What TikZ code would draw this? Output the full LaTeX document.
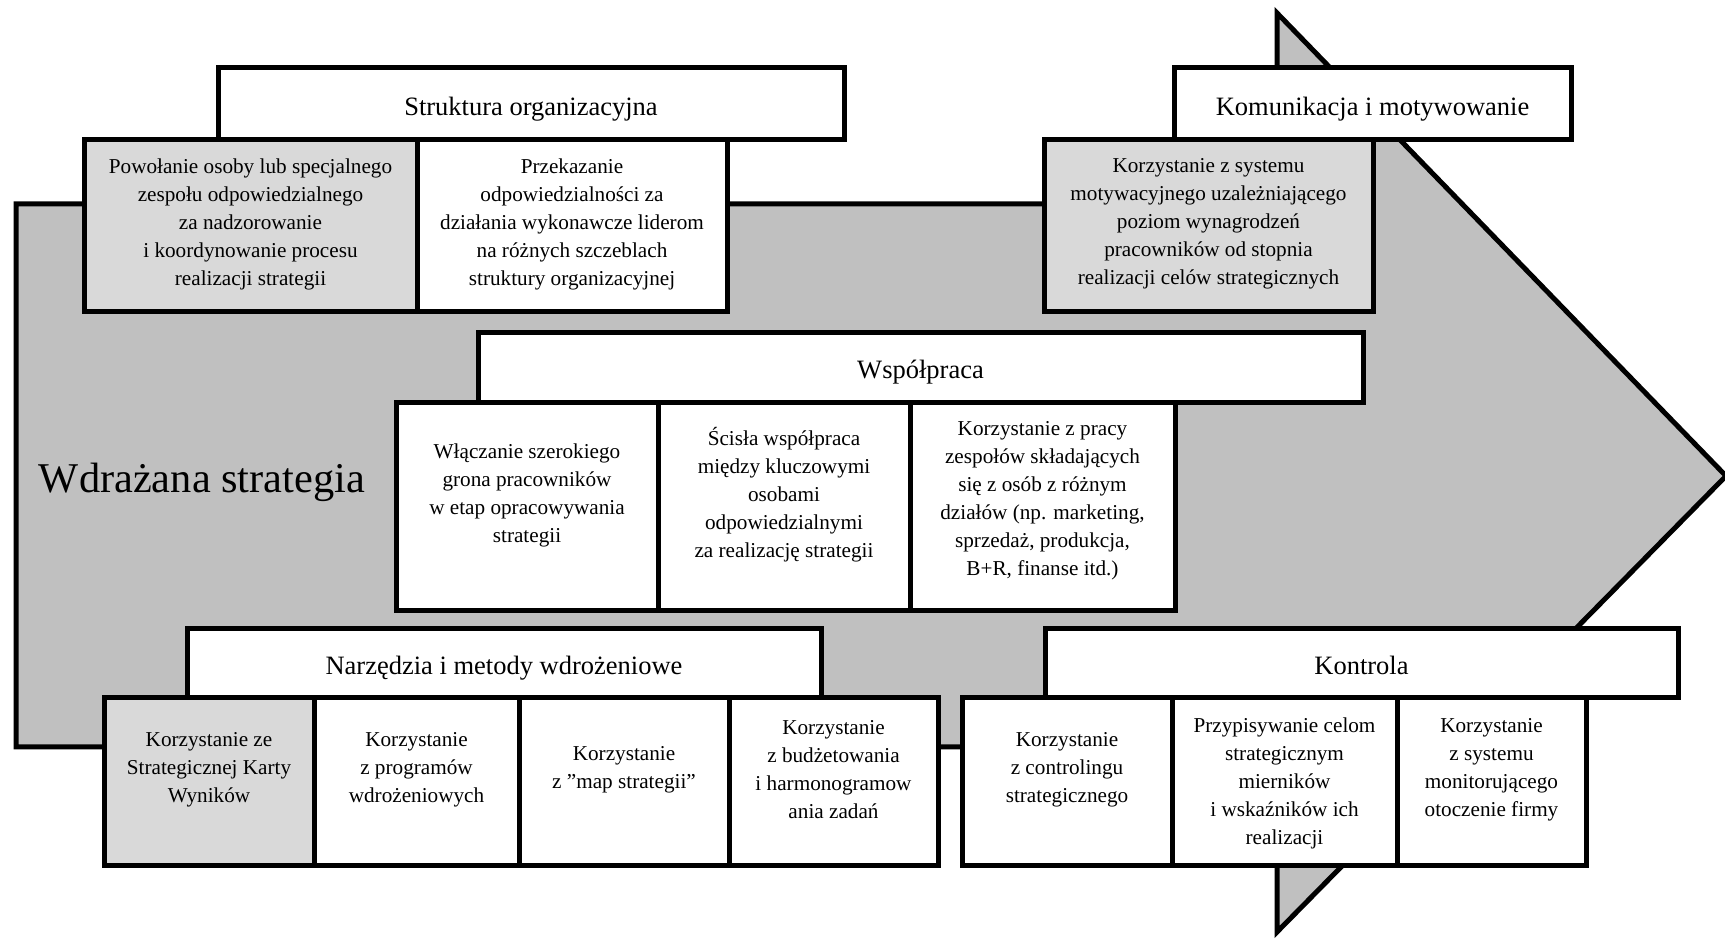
\documentclass[tikz,border=0pt]{standalone}
\usepackage{fontspec}
\setmainfont{Liberation Serif}

\definecolor{arrowgray}{RGB}{192,192,192}
\definecolor{cellgray}{RGB}{217,217,217}
\newcommand{\cellfont}{\fontsize{10.6}{14}\selectfont}
\newcommand{\headfont}{\fontsize{13.25}{16}\selectfont}

\begin{document}
\begin{tikzpicture}[x=0.5pt,y=-0.5pt,line width=2.5pt,
  box/.style={draw,fill=white},
  grey/.style={draw,fill=cellgray},
  head/.style={font=\headfont,inner sep=0pt,text height=9.05pt,text depth=0pt},
  txt/.style={align=center,font=\cellfont,inner sep=0pt}]
  \useasboundingbox (0,0) rectangle (1725,940);
  % the big arrow behind everything
  \draw[fill=arrowgray] (16,204)--(1277,204)--(1277,13)--(1726,476)
    --(1277,932)--(1277,747)--(16,747)--cycle;
  \node[font=\fontsize{21.2}{25}\selectfont,anchor=base] (wdr) at (202,493) {Wdrażana strategia};

  % Struktura organizacyjna
  \draw[box] (218,68) rectangle (844,140);
  \node[head] (struk) at (531,106) {Struktura organizacyjna};
  \draw[grey] (84,140) rectangle (417,312);
  \draw[box] (417,140) rectangle (727,312);
  \node[txt] (struk1) at (250.5,224) {Powołanie osoby lub specjalnego\\zespołu odpowiedzialnego\\za nadzorowanie\\i koordynowanie procesu\\realizacji strategii};
  \node[txt] (struk2) at (572,224) {Przekazanie\\odpowiedzialności za\\działania wykonawcze liderom\\na różnych szczeblach\\struktury organizacyjnej};

  % Komunikacja i motywowanie
  \draw[box] (1174,68) rectangle (1571,140);
  \node[head] (komu) at (1372.5,106) {Komunikacja i motywowanie};
  \draw[grey] (1044,140) rectangle (1373,312);
  \node[txt] (komu1) at (1208.5,224) {Korzystanie z systemu\\motywacyjnego uzależniającego\\poziom wynagrodzeń\\pracowników od stopnia\\realizacji celów strategicznych};

  % Wspolpraca
  \draw[box] (478,333) rectangle (1363,403);
  \node[head] (wsp) at (920.5,369) {Współpraca};
  \draw[box] (396,403) rectangle (658,611);
  \draw[box] (658,403) rectangle (910,611);
  \draw[box] (910,403) rectangle (1175,611);
  \node[txt] (wsp1) at (527,495) {Włączanie szerokiego\\grona pracowników\\w etap opracowywania\\strategii};
  \node[txt] (wsp2) at (784,495) {Ścisła współpraca\\między kluczowymi\\osobami\\odpowiedzialnymi\\za realizację strategii};
  \node[txt] (wsp3) at (1042.5,501) {Korzystanie z pracy\\zespołów składających\\się z osób z różnym\\działów (np. marketing,\\sprzedaż, produkcja,\\B+R, finanse itd.)};

  % Narzedzia i metody
  \draw[box] (187,629) rectangle (821,698);
  \node[head] (narz) at (504,665) {Narzędzia i metody wdrożeniowe};
  \draw[grey] (104,698) rectangle (314,865);
  \draw[box] (314,698) rectangle (519,865);
  \draw[box] (519,698) rectangle (729,865);
  \draw[box] (729,698) rectangle (938,865);
  \node[txt] (narz1) at (209,770) {Korzystanie ze\\Strategicznej Karty\\Wyników};
  \node[txt] (narz2) at (416.5,770) {Korzystanie\\z programów\\wdrożeniowych};
  \node[txt] (narz3) at (624,770) {Korzystanie\\z ”map strategii”};
  \node[txt] (narz4) at (833.5,770) {Korzystanie\\z budżetowania\\i harmonogramow\\ania zadań};

  % Kontrola
  \draw[box] (1045,629) rectangle (1678,698);
  \node[head] (kontr) at (1361.5,665) {Kontrola};
  \draw[box] (962,698) rectangle (1172,865);
  \draw[box] (1172,698) rectangle (1397,865);
  \draw[box] (1397,698) rectangle (1586,865);
  \node[txt] (kontr1) at (1067,770) {Korzystanie\\z controlingu\\strategicznego};
  \node[txt] (kontr2) at (1284.5,783) {Przypisywanie celom\\strategicznym\\mierników\\i wskaźników ich\\realizacji};
  \node[txt] (kontr3) at (1491.5,770) {Korzystanie\\z systemu\\monitorującego\\otoczenie firmy};
\end{tikzpicture}
\end{document}
